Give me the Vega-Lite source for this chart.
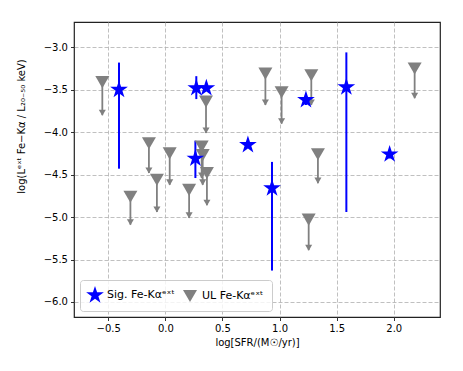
{
  "$schema": "https://vega.github.io/schema/vega-lite/v6.json",
  "width": 366,
  "height": 295,
  "autosize": {"type": "none"},
  "padding": {"left": 74, "top": 22, "right": 23, "bottom": 54},
  "background": "white",
  "config": {
    "font": "DejaVu Sans",
    "view": {"stroke": "#222222", "strokeWidth": 1.2},
    "axis": {
      "domain": false,
      "grid": true,
      "gridColor": "#b0b0b0",
      "gridDash": [4, 2],
      "gridWidth": 0.8,
      "tickColor": "#000000",
      "tickSize": 3.5,
      "tickWidth": 0.8,
      "labelFont": "DejaVu Sans",
      "labelFontSize": 10,
      "labelColor": "#000000",
      "labelPadding": 3,
      "titleFont": "DejaVu Sans",
      "titleFontSize": 10,
      "titleFontWeight": "normal",
      "titleColor": "#000000"
    },
    "legend": {
      "labelFont": "DejaVu Sans",
      "labelFontSize": 11,
      "labelColor": "#000000"
    }
  },
  "data": {
    "values": [
      {"type": "UL Fe-Kαᵉˣᵗ", "x": -0.552, "y": -3.41, "lo": -3.80, "hi": -3.41},
      {"type": "UL Fe-Kαᵉˣᵗ", "x": -0.144, "y": -4.13, "lo": -4.48, "hi": -4.13},
      {"type": "UL Fe-Kαᵉˣᵗ", "x": 0.038, "y": -4.25, "lo": -4.62, "hi": -4.25},
      {"type": "UL Fe-Kαᵉˣᵗ", "x": -0.074, "y": -4.56, "lo": -4.94, "hi": -4.56},
      {"type": "UL Fe-Kαᵉˣᵗ", "x": -0.306, "y": -4.76, "lo": -5.09, "hi": -4.76},
      {"type": "UL Fe-Kαᵉˣᵗ", "x": 0.208, "y": -4.68, "lo": -5.01, "hi": -4.68},
      {"type": "UL Fe-Kαᵉˣᵗ", "x": 0.356, "y": -3.64, "lo": -4.01, "hi": -3.64},
      {"type": "UL Fe-Kαᵉˣᵗ", "x": 0.318, "y": -4.17, "lo": -4.54, "hi": -4.17},
      {"type": "UL Fe-Kαᵉˣᵗ", "x": 0.327, "y": -4.27, "lo": -4.62, "hi": -4.27},
      {"type": "UL Fe-Kαᵉˣᵗ", "x": 0.364, "y": -4.48, "lo": -4.86, "hi": -4.48},
      {"type": "UL Fe-Kαᵉˣᵗ", "x": 0.876, "y": -3.31, "lo": -3.68, "hi": -3.31},
      {"type": "UL Fe-Kαᵉˣᵗ", "x": 1.018, "y": -3.53, "lo": -3.90, "hi": -3.53},
      {"type": "UL Fe-Kαᵉˣᵗ", "x": 1.278, "y": -3.33, "lo": -3.68, "hi": -3.33},
      {"type": "UL Fe-Kαᵉˣᵗ", "x": 1.336, "y": -4.26, "lo": -4.60, "hi": -4.26},
      {"type": "UL Fe-Kαᵉˣᵗ", "x": 1.255, "y": -5.03, "lo": -5.39, "hi": -5.03},
      {"type": "UL Fe-Kαᵉˣᵗ", "x": 2.183, "y": -3.25, "lo": -3.60, "hi": -3.25},
      {"type": "Sig. Fe-Kαᵉˣᵗ", "x": -0.406, "y": -3.50, "lo": -4.43, "hi": -3.18},
      {"type": "Sig. Fe-Kαᵉˣᵗ", "x": 0.271, "y": -3.48, "lo": -3.61, "hi": -3.34},
      {"type": "Sig. Fe-Kαᵉˣᵗ", "x": 0.359, "y": -3.48, "lo": null, "hi": null},
      {"type": "Sig. Fe-Kαᵉˣᵗ", "x": 0.263, "y": -4.31, "lo": -4.54, "hi": -4.10},
      {"type": "Sig. Fe-Kαᵉˣᵗ", "x": 0.723, "y": -4.15, "lo": null, "hi": null},
      {"type": "Sig. Fe-Kαᵉˣᵗ", "x": 0.934, "y": -4.66, "lo": -5.63, "hi": -4.35},
      {"type": "Sig. Fe-Kαᵉˣᵗ", "x": 1.231, "y": -3.62, "lo": -3.68, "hi": -3.56},
      {"type": "Sig. Fe-Kαᵉˣᵗ", "x": 1.585, "y": -3.47, "lo": -4.94, "hi": -3.06},
      {"type": "Sig. Fe-Kαᵉˣᵗ", "x": 1.964, "y": -4.26, "lo": -4.31, "hi": -4.21}
    ]
  },
  "encoding": {
    "x": {
      "field": "x", "type": "quantitative",
      "scale": {"domain": [-0.80, 2.405], "nice": false, "zero": false},
      "axis": {"orient": "bottom", "values": [-0.5, 0, 0.5, 1, 1.5, 2], "format": ".1f", "title": "log[SFR/(M☉/yr)]", "titlePadding": 4}
    }
  },
  "layer": [
    {
      "transform": [{"filter": "datum.type === 'UL Fe-Kαᵉˣᵗ'"}],
      "mark": {"type": "rule", "color": "#808080", "strokeWidth": 1.8},
      "encoding": {
        "y": {"field": "lo", "type": "quantitative", "scale": {"domain": [-6.177, -2.702], "nice": false, "zero": false},
          "axis": {"orient": "left", "values": [-6, -5.5, -5, -4.5, -4, -3.5, -3], "format": ".1f", "title": "log(Lᵉˣᵗ Fe−Kα / L₂₀₋₅₀ keV)", "titleX": -48, "titleY": 104}},
        "y2": {"field": "hi"}
      }
    },
    {
      "transform": [{"filter": "datum.type === 'UL Fe-Kαᵉˣᵗ'"}],
      "mark": {"type": "point", "shape": "triangle-down", "filled": true, "color": "#808080", "size": 50, "opacity": 1, "yOffset": -2.5},
      "encoding": {"y": {"field": "lo", "type": "quantitative"}}
    },
    {
      "transform": [{"filter": "datum.type === 'Sig. Fe-Kαᵉˣᵗ' && datum.lo != null"}],
      "mark": {"type": "rule", "color": "#0000ff", "strokeWidth": 2},
      "encoding": {"y": {"field": "lo", "type": "quantitative"}, "y2": {"field": "hi"}}
    },
    {
      "mark": {"type": "point", "filled": true, "opacity": 1, "size": 196},
      "encoding": {
        "y": {"field": "y", "type": "quantitative"},
        "color": {
          "field": "type", "type": "nominal",
          "scale": {"domain": ["Sig. Fe-Kαᵉˣᵗ", "UL Fe-Kαᵉˣᵗ"], "range": ["#0000ff", "#808080"]},
          "legend": {
            "title": null, "orient": "bottom-left", "direction": "horizontal", "offset": 6,
            "fillColor": "rgba(255,255,255,0.8)", "strokeColor": "#cccccc", "cornerRadius": 3,
            "padding": 8, "symbolStrokeWidth": 0, "columnPadding": 8, "labelOffset": 5, "symbolSize": 196
          }
        },
        "shape": {
          "field": "type", "type": "nominal",
          "scale": {"domain": ["Sig. Fe-Kαᵉˣᵗ", "UL Fe-Kαᵉˣᵗ"], "range": ["M0,-1.33L0.2986,-0.411L1.265,-0.411L0.4832,0.157L0.7818,1.076L0,0.508L-0.7818,1.076L-0.4832,0.157L-1.265,-0.411L-0.2986,-0.411Z", "triangle-down"]}
        }
      }
    }
  ]
}
